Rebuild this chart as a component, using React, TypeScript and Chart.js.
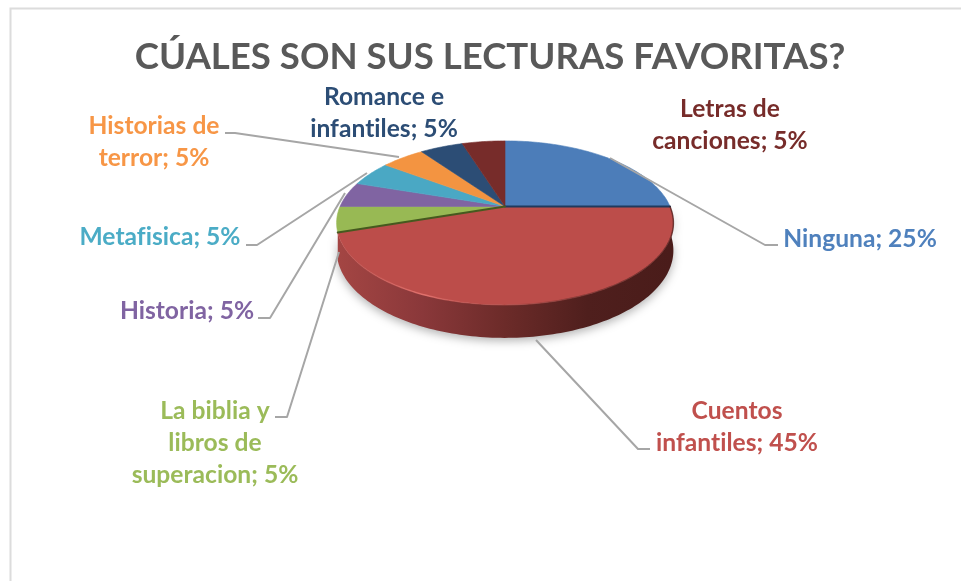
import React, { useEffect, useRef } from "react";
import Chart from "chart.js/auto";

const titleText = "CÚALES SON SUS LECTURAS FAVORITAS?";
const categories = ["Ninguna", "Cuentos infantiles", "La biblia y libros de superacion", "Historia", "Metafisica", "Historias de terror", "Romance e infantiles", "Letras de canciones"];
const values = [25, 45, 5, 5, 5, 5, 5, 5];
const sliceColors = ["#4c7db9", "#bc4d4a", "#98b954", "#8064a2", "#4aa8c4", "#f39441", "#2c4d75", "#772c2a"];
const labelColors = ["#4f81bd", "#c0504d", "#9bbb59", "#8064a2", "#4bacc6", "#f79646", "#2c4d75", "#772c2a"];
const labelPrefixLines = [["Ninguna"], ["Cuentos", "infantiles"], ["La biblia y", "libros de", "superacion"], ["Historia"], ["Metafisica"], ["Historias de", "terror"], ["Romance e", "infantiles"], ["Letras de", "canciones"]];

// label placement: centre x and first-line centre y
const labelAnchors = [[860, 239], [737, 411], [215, 411], [187, 311], [160, 237], [154, 126], [384, 97], [730, 109]];
// leader lines (none for the two top labels)
const leaders: number[][][] = [
  [[778, 245], [765, 245], [610, 158]],
  [[650, 449], [638, 449], [536, 340]],
  [[275, 417], [287, 417], [339, 252]],
  [[258, 318], [270, 318], [345, 193]],
  [[246, 245], [257, 245], [367, 173]],
  [[225, 133], [235, 133], [399, 157]],
];

const W = 961, H = 581;
const K = 0.2, RY = 0.477, DEPTH = 0.16;

const pie3d = {
  id: "pie3d",
  beforeDraw(chart: any) {
    const c = chart.ctx;
    c.save();
    c.fillStyle = "#fff";
    c.fillRect(0, 0, W, H);
    c.strokeStyle = "#dcdcdc";
    c.lineWidth = 2;
    c.beginPath();
    c.moveTo(10.5, H);
    c.lineTo(10.5, 8.5);
    c.lineTo(W, 8.5);
    c.stroke();
    c.restore();
  },
  beforeDatasetsDraw(chart: any) {
    const c = chart.ctx;
    const arcs = chart.getDatasetMeta(0).data;
    const { x: cx, y: cy, outerRadius: R } = arcs[0];
    const proj = (a: number, r = 1, drop = 0) => {
      const X = Math.cos(a) * r, Y = Math.sin(a) * r;
      const s = 1 / (1 - K * Y);
      return [cx + R * X * s, cy + R * RY * Y * s + drop * R * DEPTH * s];
    };
    const trace = (from: number, to: number, drop = 0, move = true) => {
      const n = Math.max(2, Math.ceil(Math.abs(to - from) / 0.02));
      for (let i = 0; i <= n; i++) {
        const p = proj(from + ((to - from) * i) / n, 1, drop);
        if (i === 0 && move) c.moveTo(p[0], p[1]);
        else c.lineTo(p[0], p[1]);
      }
    };
    const red = arcs[1];
    c.save();
    // side wall of the large front slice, with soft shadow
    const wallPath = () => {
      c.beginPath();
      trace(red.startAngle, red.endAngle, 0);
      trace(red.endAngle, red.startAngle, 1, false);
      c.closePath();
    };
    const g = c.createLinearGradient(cx - R, 0, cx + R, 0);
    g.addColorStop(0, "#a34543");
    g.addColorStop(0.25, "#8a383a");
    g.addColorStop(0.5, "#6c2b29");
    g.addColorStop(0.75, "#4f1f1d");
    g.addColorStop(1, "#4a1c1a");
    c.shadowColor = "rgba(0,0,0,0.3)";
    c.shadowBlur = 10;
    c.shadowOffsetY = 3;
    c.fillStyle = g;
    wallPath();
    c.fill();
    c.shadowColor = "transparent";
    c.shadowBlur = 0;
    c.shadowOffsetY = 0;
    // top faces
    arcs.forEach((el: any) => {
      c.beginPath();
      c.moveTo(cx, cy);
      trace(el.startAngle, el.endAngle, 0, false);
      c.closePath();
      c.fillStyle = el.options.backgroundColor;
      c.strokeStyle = el.options.backgroundColor;
      c.lineWidth = 0.6;
      c.fill();
      c.stroke();
    });
    // dark creases where the front slice meets its neighbours
    c.lineCap = "round";
    const crease = (a: number, colour: string, w: number) => {
      const p = proj(a);
      c.strokeStyle = colour;
      c.lineWidth = w;
      c.beginPath();
      c.moveTo(cx, cy);
      c.lineTo(p[0], p[1]);
      c.stroke();
    };
    crease(red.startAngle, "#203a5c", 2);
    crease(red.endAngle, "#46591f", 2);
    // rim: a narrow highlight on the front-left edge, dark to the right
    const rim = c.createLinearGradient(cx - R, 0, cx + R, 0);
    rim.addColorStop(0, "rgba(200,90,85,0)");
    rim.addColorStop(0.16, "rgba(225,110,105,0.55)");
    rim.addColorStop(0.26, "rgba(235,120,115,0.8)");
    rim.addColorStop(0.42, "rgba(190,80,76,0.2)");
    rim.addColorStop(0.7, "rgba(90,35,32,0.5)");
    rim.addColorStop(1, "rgba(60,22,20,0.6)");
    c.strokeStyle = rim;
    c.lineWidth = 1.5;
    c.beginPath();
    trace(red.startAngle, red.endAngle, 0);
    c.stroke();
    c.restore();
    return false;
  },
  afterDraw(chart: any) {
    const c = chart.ctx;
    c.save();
    c.textAlign = "center";
    c.textBaseline = "middle";
    c.fillStyle = "#595959";
    c.font = 'bold 36.6px Lato, "Open Sans", sans-serif';
    c.fillText(titleText, 490, 57);
    // leader lines
    c.strokeStyle = "#a6a6a6";
    c.lineWidth = 2;
    c.lineJoin = "round";
    leaders.forEach((pts) => {
      c.beginPath();
      pts.forEach((p, i) => (i ? c.lineTo(p[0], p[1]) : c.moveTo(p[0], p[1])));
      c.stroke();
    });
    // labels
    c.font = 'bold 24.6px Lato, "Open Sans", sans-serif';
    (c as any).letterSpacing = "0.02px";
    categories.forEach((_, i) => {
      const lines = labelPrefixLines[i];
      c.fillStyle = labelColors[i];
      lines.forEach((line, j) => {
        const text = j === lines.length - 1 ? `${line}; ${values[i]}%` : line;
        c.fillText(text, labelAnchors[i][0], labelAnchors[i][1] + j * 32);
      });
    });
    c.restore();
  },
};

export default function App() {
  const ref = useRef<HTMLCanvasElement>(null);
  useEffect(() => {
    const chart = new Chart(ref.current!, {
      type: "pie",
      data: {
        labels: categories,
        datasets: [{ data: values, backgroundColor: sliceColors, borderWidth: 0 }],
      },
      options: {
        animation: false,
        responsive: false,
        layout: { padding: { left: 340, right: 291, top: 41.5, bottom: 209.5 } },
        plugins: { legend: { display: false }, tooltip: { enabled: false }, title: { display: false } },
      },
      plugins: [pie3d as any],
    });
    return () => chart.destroy();
  }, []);
  return (
    <div style={{ position: "fixed", left: 0, top: 0, width: W, height: H, background: "#fff" }}>
      <canvas ref={ref} width={W} height={H} style={{ display: "block", filter: "blur(0.4px)" }} />
    </div>
  );
}
